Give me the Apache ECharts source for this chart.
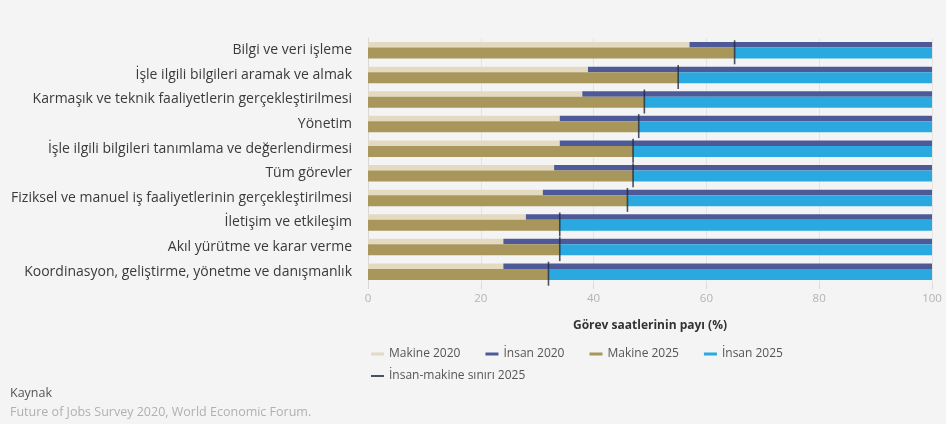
<!DOCTYPE html>
<html>
<head>
<meta charset="utf-8">
<script src="https://cdn.jsdelivr.net/npm/echarts@6/dist/echarts.min.js"></script>
<style>
  html, body { margin: 0; padding: 0; background: #f4f4f4; }
  #chart { width: 946px; height: 424px; }
</style>
</head>
<body>
<div id="chart"></div>
<script>
// Task categories, top to bottom
const categories = [
  'Bilgi ve veri işleme',
  'İşle ilgili bilgileri aramak ve almak',
  'Karmaşık ve teknik faaliyetlerin gerçekleştirilmesi',
  'Yönetim',
  'İşle ilgili bilgileri tanımlama ve değerlendirmesi',
  'Tüm görevler',
  'Fiziksel ve manuel iş faaliyetlerinin gerçekleştirilmesi',
  'İletişim ve etkileşim',
  'Akıl yürütme ve karar verme',
  'Koordinasyon, geliştirme, yönetme ve danışmanlık'
];

// Share of task hours performed by machines (%)
const makine2020 = [57, 39, 38, 34, 34, 33, 31, 28, 24, 24];
const makine2025 = [65, 55, 49, 48, 47, 47, 46, 34, 34, 32];

// Human share is the remainder up to 100 %
const insan2020 = makine2020.map(v => 100 - v);
const insan2025 = makine2025.map(v => 100 - v);

const xTicks = [0, 20, 40, 60, 80, 100];

const FONT = 'Open Sans';
const chart = echarts.init(document.getElementById('chart'));

chart.setOption({
  backgroundColor: '#f4f4f4',
  textStyle: { fontFamily: FONT },
  grid: { left: 368, right: 14, top: 38, bottom: 140 },
  legend: [{
    left: 366, top: 343,
    icon: 'rect', itemWidth: 13, itemHeight: 3, itemGap: 25,
    textStyle: { color: '#555', fontSize: 12, fontFamily: FONT },
    data: ['Makine 2020', 'İnsan 2020', 'Makine 2025', 'İnsan 2025']
  }, {
    left: 366, top: 365,
    icon: 'rect', itemWidth: 13, itemHeight: 2, itemGap: 25,
    textStyle: { color: '#555', fontSize: 12, fontFamily: FONT },
    data: ['İnsan-makine sınırı 2025']
  }],
  xAxis: {
    type: 'value', min: xTicks[0], max: xTicks[xTicks.length - 1], interval: 20,
    name: 'Görev saatlerinin payı (%)',
    nameLocation: 'middle', nameGap: 36,
    nameTextStyle: { color: '#333', fontSize: 12, fontWeight: 'bold', fontFamily: FONT },
    axisLine: { show: false },
    axisTick: { show: true, length: 5, lineStyle: { color: '#d8d8d8' } },
    axisLabel: { color: '#b3b3b3', fontSize: 11.5, margin: 9 },
    splitLine: { show: true, lineStyle: { color: '#e4e4e4', width: 1 } }
  },
  yAxis: {
    type: 'category', data: categories, inverse: true,
    axisLine: { show: true, lineStyle: { color: '#d8d8d8' } },
    axisTick: { show: false },
    axisLabel: { color: '#3a3a3a', fontSize: 14, margin: 16, fontFamily: FONT }
  },
  series: [
    {
      name: 'Makine 2020', type: 'bar', stack: 'y2020', data: makine2020,
      barWidth: 5.5, barGap: '0%', itemStyle: { color: '#e3dac1' }
    },
    {
      name: 'İnsan 2020', type: 'bar', stack: 'y2020', data: insan2020,
      barWidth: 5.5, barGap: '0%', itemStyle: { color: '#4e5a98' }
    },
    {
      name: 'Makine 2025', type: 'bar', stack: 'y2025', data: makine2025,
      barWidth: 11, barGap: '0%', itemStyle: { color: '#a8965a' }
    },
    {
      name: 'İnsan 2025', type: 'bar', stack: 'y2025', data: insan2025,
      barWidth: 11, barGap: '0%', itemStyle: { color: '#29a9e0' }
    },
    {
      // boundary between machine and human work in 2025
      name: 'İnsan-makine sınırı 2025', type: 'scatter',
      data: makine2025.map((v, i) => [v, categories[i]]),
      symbol: 'rect', symbolSize: [1.6, 24], symbolOffset: [0, 2],
      itemStyle: { color: '#1f2b3d' }, z: 5
    }
  ],
  graphic: [
    { type: 'text', left: 10, top: 387,
      style: { text: 'Kaynak', fill: '#555', font: '12.5px ' + FONT } },
    { type: 'text', left: 10, top: 406,
      style: { text: 'Future of Jobs Survey 2020, World Economic Forum.', fill: '#b0b0b0', font: '12.5px ' + FONT } }
  ]
});
</script>
</body>
</html>
